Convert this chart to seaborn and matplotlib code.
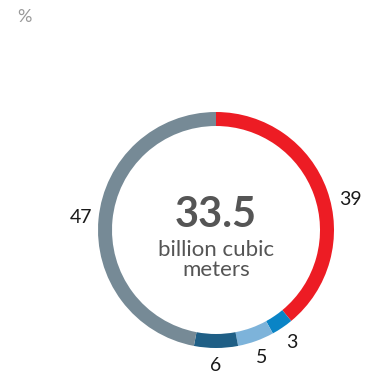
import matplotlib
matplotlib.use('Agg')
import matplotlib.pyplot as plt
import seaborn as sns
import numpy as np

# Data
categories = ['A', 'B', 'C', 'D', 'E']
values = [39, 3, 5, 6, 47]
labels = ['39', '3', '5', '6', '47']
colors = ['#ED1C24', '#0A84C6', '#7DB3DA', '#1F5F86', '#768A96']
total_text = '33.5'
unit_text = 'billion cubic\nmeters'

sns.set_theme(style='white')
plt.rcParams['font.family'] = ['Lato', 'DejaVu Sans']

fig = plt.figure(figsize=(3.69, 3.73), dpi=100)
ax = fig.add_axes([0, 0, 1, 1])

cx, cy, r = 216, 373 - 230, 118
wedges, texts = ax.pie(
    values, colors=colors, labels=labels, startangle=90, counterclock=False,
    center=(cx, cy), radius=r, labeldistance=1.15, frame=True,
    wedgeprops=dict(width=14, linewidth=0),
    textprops=dict(fontsize=14, color='#1a1a1a'))
for t in texts:
    t.set_ha('center')
    t.set_va('center')

# the "39" label sits a bit lower than its slice midpoint
ang = np.deg2rad(90 - 360 * (values[0] / 2 + 1.9) / 100)
texts[0].set_position((cx + 1.17 * r * np.cos(ang), cy + 1.17 * r * np.sin(ang)))

ax.set_xlim(0, 369)
ax.set_ylim(0, 373)
ax.set_aspect('equal')
ax.axis('off')

ax.text(cx, cy + 15, total_text, ha='center', va='center', fontsize=30,
        fontweight='bold', color='#555555')
ax.text(cx, cy - 30, unit_text, ha='center', va='center', fontsize=16,
        color='#555555', linespacing=1.0)
fig.text(24 / 369, 1 - 17 / 373, '%', ha='center', va='center', fontsize=13,
         color='#999999')

fig.savefig('out.png', dpi=100)
